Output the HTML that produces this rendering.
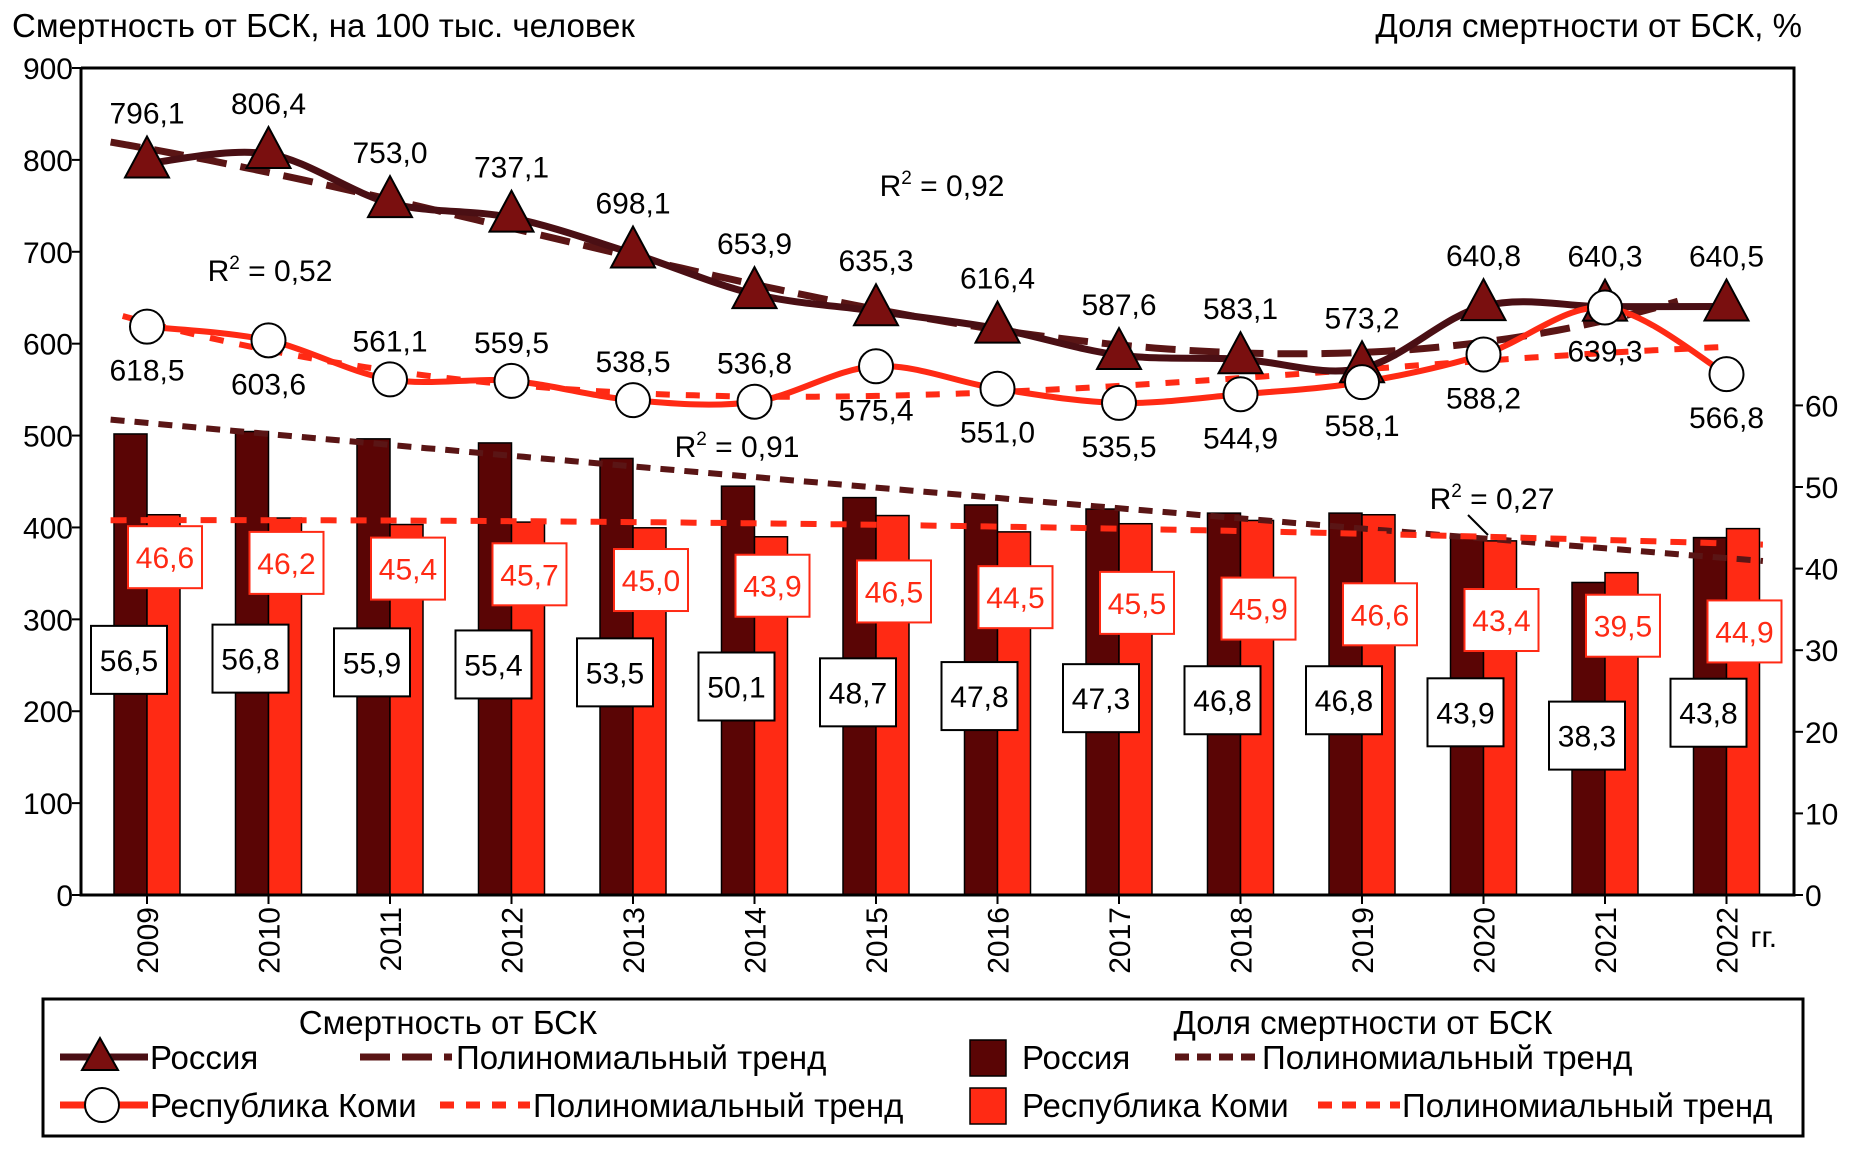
<!DOCTYPE html>
<html><head><meta charset="utf-8"><style>
html,body{margin:0;padding:0;background:#fff;}
svg{display:block;font-family:"Liberation Sans",sans-serif;}
</style></head><body>
<svg id="chart" width="1860" height="1150" viewBox="0 0 1860 1150" xmlns="http://www.w3.org/2000/svg">
<text x="12" y="37" font-size="33">Смертность от БСК, на 100 тыс. человек</text>
<text x="1802" y="37" font-size="33" text-anchor="end">Доля смертности от БСК, %</text>
<g id="plot"></g>
<g font-size="33">
<rect x="43" y="999" width="1760" height="137" fill="#fff" stroke="#000" stroke-width="3"/>
<text x="448" y="1034" text-anchor="middle">Смертность от БСК</text>
<text x="1363" y="1034" text-anchor="middle">Доля смертности от БСК</text>
<g>
<line x1="60" y1="1057" x2="148" y2="1057" stroke="#4a0f14" stroke-width="7"/>
<polygon points="100,1038 82,1070 118,1070" fill="#7a0f0f" stroke="#000" stroke-width="2"/>
<text x="150" y="1069">Россия</text></g>
<g>
<line x1="360" y1="1057" x2="452" y2="1057" stroke="#5a1515" stroke-width="7" stroke-dasharray="30,12"/>
<text x="456" y="1069">Полиномиальный тренд</text></g>
<g>
<line x1="60" y1="1105" x2="148" y2="1105" stroke="#ff2a14" stroke-width="7"/>
<circle cx="102" cy="1105" r="17" fill="#fff" stroke="#000" stroke-width="2"/>
<text x="150" y="1117">Республика Коми</text></g>
<g>
<line x1="440" y1="1105" x2="530" y2="1105" stroke="#ff2a14" stroke-width="7" stroke-dasharray="14,12"/>
<text x="533" y="1117">Полиномиальный тренд</text></g>
<g>
<rect x="970" y="1040" width="36" height="36" fill="#5a0505" stroke="#000" stroke-width="1.5"/>
<text x="1022" y="1069">Россия</text></g>
<g>
<line x1="1175" y1="1057" x2="1258" y2="1057" stroke="#5a1515" stroke-width="7" stroke-dasharray="14,8"/>
<text x="1262" y="1069">Полиномиальный тренд</text></g>
<g>
<rect x="970" y="1088" width="36" height="36" fill="#ff2a14" stroke="#000" stroke-width="1.5"/>
<text x="1022" y="1117">Республика Коми</text></g>
<g>
<line x1="1318" y1="1105" x2="1400" y2="1105" stroke="#ff2a14" stroke-width="7" stroke-dasharray="14,10"/>
<text x="1402" y="1117">Полиномиальный тренд</text></g>
</g>
</svg>
<script>
const years = ["2009","2010","2011","2012","2013","2014","2015","2016","2017","2018","2019","2020","2021","2022"];
const russiaMort = [796.1,806.4,753.0,737.1,698.1,653.9,635.3,616.4,587.6,583.1,573.2,640.8,640.3,640.5];
const komiMort = [618.5,603.6,561.1,559.5,538.5,536.8,575.4,551.0,535.5,544.9,558.1,588.2,639.3,566.8];
const russiaShare = [56.5,56.8,55.9,55.4,53.5,50.1,48.7,47.8,47.3,46.8,46.8,43.9,38.3,43.8];
const komiShare = [46.6,46.2,45.4,45.7,45.0,43.9,46.5,44.5,45.5,45.9,46.6,43.4,39.5,44.9];
const leftTicks = [0,100,200,300,400,500,600,700,800,900];
const rightTicks = [0,10,20,30,40,50,60];
const komiLabelBelow = [true,true,false,false,false,false,true,true,true,true,true,true,true,true];

const NS="http://www.w3.org/2000/svg";
const g=document.getElementById('plot');
const L=81,R=1794,T=68,B=895;
const FS=30;
function x(i){return 147+121.5*i;}
function yL(v){return B-v/900*(B-T);}
function yR(v){return B-v*8.16;}
function mk(tag,attrs,parent){const e=document.createElementNS(NS,tag);for(const k in attrs)e.setAttribute(k,attrs[k]);(parent||g).appendChild(e);return e;}
function fmt(v){return v.toFixed(1).replace('.',',');}
function polyfit(ys,deg){
  const n=deg+1,A=[],b=[];
  for(let r=0;r<n;r++){A.push(new Array(n).fill(0));b.push(0);}
  ys.forEach((y,i)=>{for(let r=0;r<n;r++){b[r]+=y*Math.pow(i,r);for(let c=0;c<n;c++)A[r][c]+=Math.pow(i,r+c);}});
  for(let c=0;c<n;c++){let p=c;for(let r=c+1;r<n;r++)if(Math.abs(A[r][c])>Math.abs(A[p][c]))p=r;[A[c],A[p]]=[A[p],A[c]];[b[c],b[p]]=[b[p],b[c]];
    for(let r=0;r<n;r++){if(r===c)continue;const f=A[r][c]/A[c][c];for(let k=c;k<n;k++)A[r][k]-=f*A[c][k];b[r]-=f*b[c];}}
  const co=b.map((v,i)=>v/A[i][i]);
  return t=>co.reduce((s,c,k)=>s+c*Math.pow(t,k),0);
}
function smooth(pts){
  let d='M'+pts[0][0]+','+pts[0][1];
  for(let i=0;i<pts.length-1;i++){const p0=pts[i-1]||pts[i],p1=pts[i],p2=pts[i+1],p3=pts[i+2]||p2;
    const c1=[p1[0]+(p2[0]-p0[0])/6,p1[1]+(p2[1]-p0[1])/6],c2=[p2[0]-(p3[0]-p1[0])/6,p2[1]-(p3[1]-p1[1])/6];
    d+=' C'+c1[0]+','+c1[1]+' '+c2[0]+','+c2[1]+' '+p2[0]+','+p2[1];}
  return d;
}
function trendPath(f,yfn,t0,t1){let d='';for(let t=t0;t<=t1;t+=0.1){d+=(d?'L':'M')+x(t).toFixed(1)+','+yfn(f(t)).toFixed(1);}return d;}

years.forEach((yr,i)=>{
  const b1=mk('rect',{x:x(i)-33,y:yR(russiaShare[i]),width:33,height:B-yR(russiaShare[i]),fill:'#5a0505',stroke:'#000','stroke-width':1.5});
  
  
  const b2=mk('rect',{x:x(i),y:yR(komiShare[i]),width:33,height:B-yR(komiShare[i]),fill:'#ff2a14',stroke:'#000','stroke-width':1.5});
  
  
});
const fRS=polyfit(russiaShare,2),fKS=polyfit(komiShare,2);
const t1=mk('path',{d:trendPath(fRS,yR,-0.3,13.3),fill:'none',stroke:'#5a1515','stroke-width':6,'stroke-dasharray':'14,10'});


const t2=mk('path',{d:trendPath(fKS,yR,-0.3,13.3),fill:'none',stroke:'#ff2a14','stroke-width':6,'stroke-dasharray':'16,14'});


years.forEach((yr,i)=>{
  const cy=yR(41.4-0.7*i),cx=x(i)+18;
  const gg=mk('g',{});
  
  
  mk('rect',{x:cx-37,y:cy-31,width:74,height:62,fill:'#fff',stroke:'#ff2a14','stroke-width':2},gg);
  const t=mk('text',{x:cx,y:cy+11,'font-size':FS,'text-anchor':'middle',fill:'#ff2a14'},gg);t.textContent=fmt(komiShare[i]);
  const cy2=yR(russiaShare[i]*0.51),cx2=x(i)-18;
  const g2=mk('g',{});
  
  
  mk('rect',{x:cx2-38,y:cy2-34,width:76,height:68,fill:'#fff',stroke:'#000','stroke-width':2},g2);
  const t2=mk('text',{x:cx2,y:cy2+11,'font-size':FS,'text-anchor':'middle'},g2);t2.textContent=fmt(russiaShare[i]);
});
const fRM=polyfit(russiaMort,3),fKM=polyfit(komiMort,3);
const t3=mk('path',{d:trendPath(fRM,yL,-0.3,12.6),fill:'none',stroke:'#5a1515','stroke-width':7,'stroke-dasharray':'30,14'});


const t4=mk('path',{d:trendPath(fKM,yL,-0.2,13),fill:'none',stroke:'#ff2a14','stroke-width':6,'stroke-dasharray':'14,16'});


const l1=mk('path',{d:smooth(russiaMort.map((v,i)=>[x(i),yL(v)])),fill:'none',stroke:'#4a0f14','stroke-width':7});


const l2=mk('path',{d:smooth(komiMort.map((v,i)=>[x(i),yL(v)])),fill:'none',stroke:'#ff2a14','stroke-width':6});


years.forEach((yr,i)=>{
  const px=x(i),py=yL(russiaMort[i]);
  const tri=mk('polygon',{points:`${px},${py-27} ${px-22},${py+14} ${px+22},${py+14}`,fill:'#7a0f0f',stroke:'#000','stroke-width':2});
  
  
  const tl=mk('text',{x:px,y:py-40,'font-size':FS,'text-anchor':'middle'});tl.textContent=fmt(russiaMort[i]);
  
  
  const qy=yL(komiMort[i]);
  const c=mk('circle',{cx:px,cy:qy,r:17,fill:'#fff',stroke:'#000','stroke-width':2});
  
  
  const kl=mk('text',{x:px,y:komiLabelBelow[i]?qy+54:qy-28,'font-size':FS,'text-anchor':'middle'});kl.textContent=fmt(komiMort[i]);
  
  
});
[[942,196,'0,92'],[270,281,'0,52'],[737,457,'0,91'],[1492,509,'0,27']].forEach((r,k)=>{
  const t=mk('text',{x:r[0],y:r[1],'font-size':FS,'text-anchor':'middle'});
  t.innerHTML='R<tspan dy="-12" font-size="19">2</tspan><tspan dy="12"> = '+r[2]+'</tspan>';
  
  
});
const ld=mk('polyline',{points:'1468,515 1488,535',fill:'none',stroke:'#000','stroke-width':2});


const ax=mk('path',{d:`M${L},${T} L${L},${B} L${R},${B} L${R},${T} L${L},${T}`,fill:'none',stroke:'#000','stroke-width':3});


leftTicks.forEach(v=>{
  mk('line',{x1:L-9,y1:yL(v),x2:L,y2:yL(v),stroke:'#000','stroke-width':2});
  const t=mk('text',{x:L-8,y:yL(v)+11,'font-size':FS,'text-anchor':'end'});t.textContent=v;
  
  
});
rightTicks.forEach(v=>{
  mk('line',{x1:R,y1:yR(v),x2:R+9,y2:yR(v),stroke:'#000','stroke-width':2});
  const t=mk('text',{x:R+11,y:yR(v)+11,'font-size':FS});t.textContent=v;
  
  
});
years.forEach((yr,i)=>{
  mk('line',{x1:x(i),y1:B,x2:x(i),y2:B+9,stroke:'#000','stroke-width':2});
  const t=mk('text',{x:0,y:0,'font-size':FS,'text-anchor':'end',transform:`translate(${x(i)+11},${B+12}) rotate(-90)`});t.textContent=yr;
  
  
});
const gg=mk('text',{x:x(13)+24,y:B+52,'font-size':FS});gg.textContent='гг.';


</script>
</body></html>
